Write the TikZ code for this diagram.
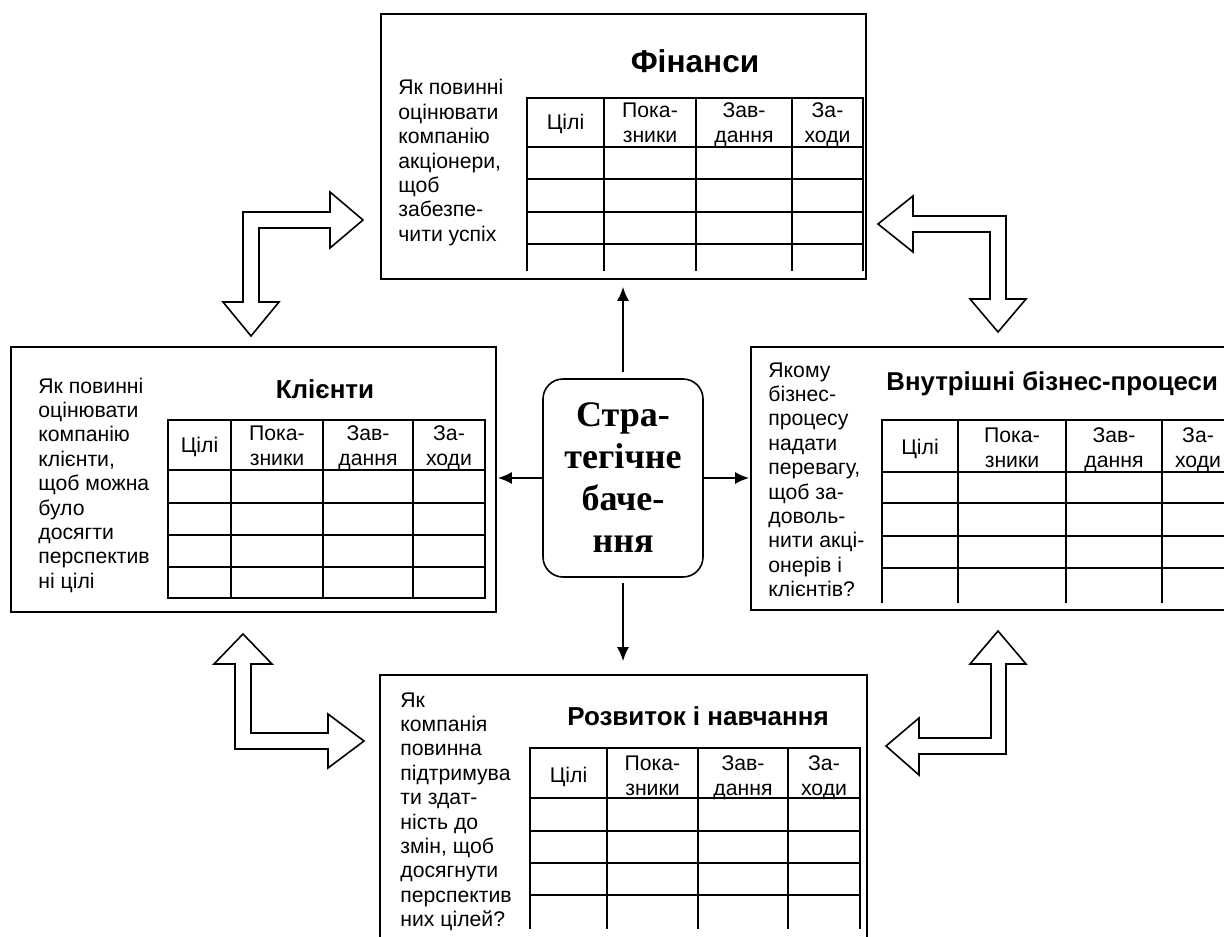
\documentclass[tikz,border=0pt]{standalone}
\usepackage{fontspec}
\setmainfont{Liberation Sans}
\newfontfamily\timesf{Liberation Serif}
\usetikzlibrary{arrows.meta,fit}
\newcommand\twol[2]{\begin{tabular}[t]{@{}c@{}}#1\\#2\end{tabular}}
\newcommand\lines[1]{\begin{tabular}[t]{@{}l@{}}#1\end{tabular}}
\newcommand\heads[7]{%
  \node[hdr] (#7c1) at ({(#1+#2)/2},{#6+12}) {Цілі};
  \node[hdr] (#7c2) at ({(#2+#3)/2},#6) {\twol{Пока-}{зники}};
  \node[hdr] (#7c3) at ({(#3+#4)/2},#6) {\twol{Зав-}{дання}};
  \node[hdr] (#7c4) at ({(#4+#5)/2},#6) {\twol{За-}{ходи}};}
\tikzset{
  box/.style={draw, line width=0.8pt, inner sep=0pt},
  grid/.style={line width=1pt, line cap=rect},
  hdr/.style={font=\fontsize{10.6}{12.5}\selectfont, inner sep=0pt, anchor=base},
  side/.style={font=\fontsize{10.6}{12.2}\selectfont, inner sep=0pt, anchor=base west},
  ttl/.style={font=\bfseries\fontsize{13}{15}\selectfont, inner sep=0pt, anchor=base},
  blockarrow/.style={draw, line width=0.8pt, fill=white, line join=miter},
  link/.style={line width=1pt, -{Latex[length=7pt,width=6pt]}},
}
\begin{document}
\begin{tikzpicture}[x=0.5pt,y=-0.5pt]
\useasboundingbox (0,0) rectangle (1224,936);
% boxes
\node[box, fit={(381,14)(866,279)}] (fin) {};
\node[box, fit={(11,347)(496,612)}] (kl) {};
\node[box, fit={(751,347)(1250,610)}] (vn) {};
\node[box, fit={(380,675)(867,960)}] (rz) {};
% titles
\node[ttl, font=\bfseries\fontsize{15.8}{18}\selectfont] (fintt) at (695,73) {Фінанси};
\node[ttl] (kltt) at (325,398) {Клієнти};
\node[ttl, anchor=base west, font=\bfseries\fontsize{12.9}{15}\selectfont] (vntt) at (886,390) {Внутрішні бізнес-процеси};
\node[ttl] (rztt) at (698,725) {Розвиток і навчання};
% side texts
\node[side] (fint) at (398,95) {\lines{Як повинні\\оцінювати\\компанію\\акціонери,\\щоб\\забезпе-\\чити успіх}};
\node[side] (klt) at (38,393) {\lines{Як повинні\\оцінювати\\компанію\\клієнти,\\щоб можна\\було\\досягти\\перспектив\\ні цілі}};
\node[side] (vnt) at (768,377) {\lines{Якому\\бізнес-\\процесу\\надати\\перевагу,\\щоб за-\\доволь-\\нити акці-\\онерів і\\клієнтів?}};
\node[side] (rzt) at (400,707) {\lines{Як\\компанія\\повинна\\підтримува\\ти здат-\\ність до\\змін, щоб\\досягнути\\перспектив\\них цілей?}};
% tables
\draw[grid] (527,98) -- (863,98);
\foreach \y in {147,179,212,244} \draw[grid] (527,\y) -- (863,\y);
\foreach \x in {527,604,696,792,863} \draw[grid] (\x,98) -- (\x,270);
\heads{527}{604}{696}{792}{863}{118}{fin}
\draw[grid] (168,420) -- (485,420);
\foreach \y in {470,503,535,567,598} \draw[grid] (168,\y) -- (485,\y);
\foreach \x in {168,231,323,413,485} \draw[grid] (\x,420) -- (\x,598);
\heads{168}{231}{323}{413}{485}{440}{kl}
\draw[grid] (882,420) -- (1234,420);
\foreach \y in {472,503,536,568} \draw[grid] (882,\y) -- (1234,\y);
\foreach \x in {882,958,1066,1162,1234} \draw[grid] (\x,420) -- (\x,602);
\heads{882}{958}{1066}{1162}{1234}{442}{vn}
\draw[grid] (530,748) -- (860,748);
\foreach \y in {798,831,863,895} \draw[grid] (530,\y) -- (860,\y);
\foreach \x in {530,607,698,788,860} \draw[grid] (\x,748) -- (\x,928);
\heads{530}{607}{698}{788}{860}{770}{rz}
% centre
\node[draw, line width=0.8pt, rounded corners=10pt, minimum width=80pt, minimum height=99pt,
  inner sep=0pt, align=center, font=\timesf\bfseries\fontsize{18}{21}\selectfont] (c) at (623,478)
  {Стра-\\тегічне\\баче-\\ння};
\draw[link, shorten <=3pt, shorten >=3.5pt] (c.north) -- (c.north |- fin.south);
\draw[link, shorten >=0.5pt] (c.west) -- (c.west -| kl.east);
\draw[link, shorten >=0.5pt] (c.east) -- (c.east -| vn.west);
\draw[link, shorten <=2.5pt, shorten >=6.5pt] (c.south) -- (c.south |- rz.north);
% block arrows
\draw[blockarrow] (363,220) -- (330,192) -- (330,212) -- (243,212) -- (243,302) -- (223,302) -- (251,336) -- (279,302) -- (259,302) -- (259,228) -- (330,228) -- (330,248) -- cycle;
\draw[blockarrow] (878,224) -- (913,196) -- (913,216) -- (1006,216) -- (1006,299) -- (1026,299) -- (998,332) -- (970,299) -- (990,299) -- (990,232) -- (913,232) -- (913,252) -- cycle;
\draw[blockarrow] (243,634) -- (272,664) -- (251,664) -- (251,733) -- (328,733) -- (328,714) -- (364,741) -- (328,768) -- (328,749) -- (235,749) -- (235,664) -- (214,664) -- cycle;
\draw[blockarrow] (998,631) -- (1026,664) -- (1006,664) -- (1006,754) -- (919,754) -- (919,775) -- (886,746) -- (919,718) -- (919,738) -- (991,738) -- (991,664) -- (970,664) -- cycle;
\end{tikzpicture}
\end{document}
